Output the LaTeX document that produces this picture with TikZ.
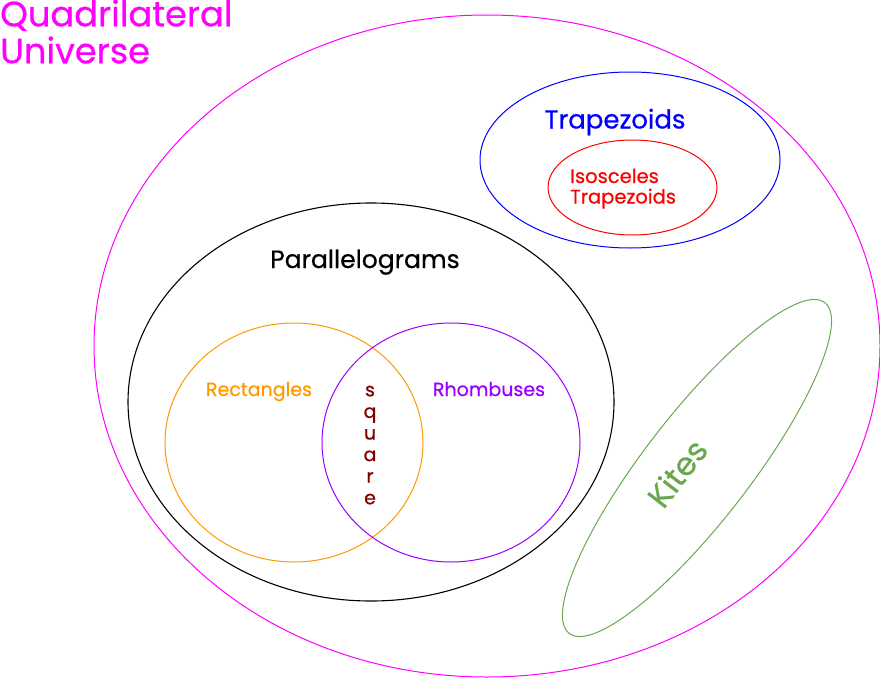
\documentclass[tikz,border=0pt]{standalone}
\usepackage{fontspec}
\setmainfont{Poppins}[UprightFeatures={FakeBold=0.6}]
\usetikzlibrary{shapes.geometric}
\definecolor{uni}{HTML}{FF00FF}
\definecolor{trap}{HTML}{0000FF}
\definecolor{isos}{HTML}{FF0000}
\definecolor{rect}{HTML}{FF9900}
\definecolor{rhomb}{HTML}{9900FF}
\definecolor{kite}{HTML}{6AA84F}
\definecolor{sq}{HTML}{800000}
\tikzset{
  setline/.style={line width=1pt},
  lbl/.style={inner sep=0pt, anchor=base},
}
\begin{document}
\begin{tikzpicture}[x=1pt,y=-1pt]
\useasboundingbox (0,0) rectangle (880,677);
% sets
\draw[setline, uni] (487,346) ellipse [x radius=393, y radius=331];
\draw[setline, trap] (630,160) ellipse [x radius=150, y radius=88];
\draw[setline, isos] (632.5,187.5) ellipse [x radius=84.5, y radius=47.5];
\draw[setline, black, line width=1.1pt] (371,402) ellipse [x radius=243, y radius=199];
\draw[setline, rect] (294,442.5) ellipse [x radius=129, y radius=119.5];
\draw[setline, rhomb] (451,442.5) ellipse [x radius=129, y radius=119.5];
\draw[setline, kite, rotate around={52.3:(697,468)}] (697,468) ellipse [x radius=209, y radius=53];
% labels (multi-line nodes are anchored at the baseline of their last line)
\node[lbl, anchor=base west, align=left, text=uni, font=\fontsize{35.2}{37}\selectfont] (tuni) at (0,63.3) {Quadrilateral\\Universe};
\node[lbl, text=trap, font=\fontsize{26}{28}\selectfont] (ttrap) at (615,128.5) {Trapezoids};
\node[lbl, anchor=base west, text=isos, align=left, font=\fontsize{19.5}{20.5}\selectfont] (tisos) at (570,203.5) {Isosceles\\Trapezoids};
\node[lbl, text=black, font=\fontsize{25}{28}\selectfont] (tpar) at (365,268) {Parallelograms};
\node[lbl, text=rect, font=\fontsize{19}{22}\selectfont] (trect) at (259,396) {Rectangles};
\node[lbl, text=rhomb, font=\fontsize{19}{22}\selectfont] (trhomb) at (489,396) {Rhombuses};
\node[lbl, text=sq, align=center, font=\fontsize{19}{21.6}\selectfont] (tsq) at (370,504.3) {s\\q\\u\\a\\r\\e};
\node[lbl, anchor=center, text=kite, rotate=52.3, font=\fontsize{32}{34}\selectfont] (tkite) at (677,473) {Kites};
\end{tikzpicture}
\end{document}
